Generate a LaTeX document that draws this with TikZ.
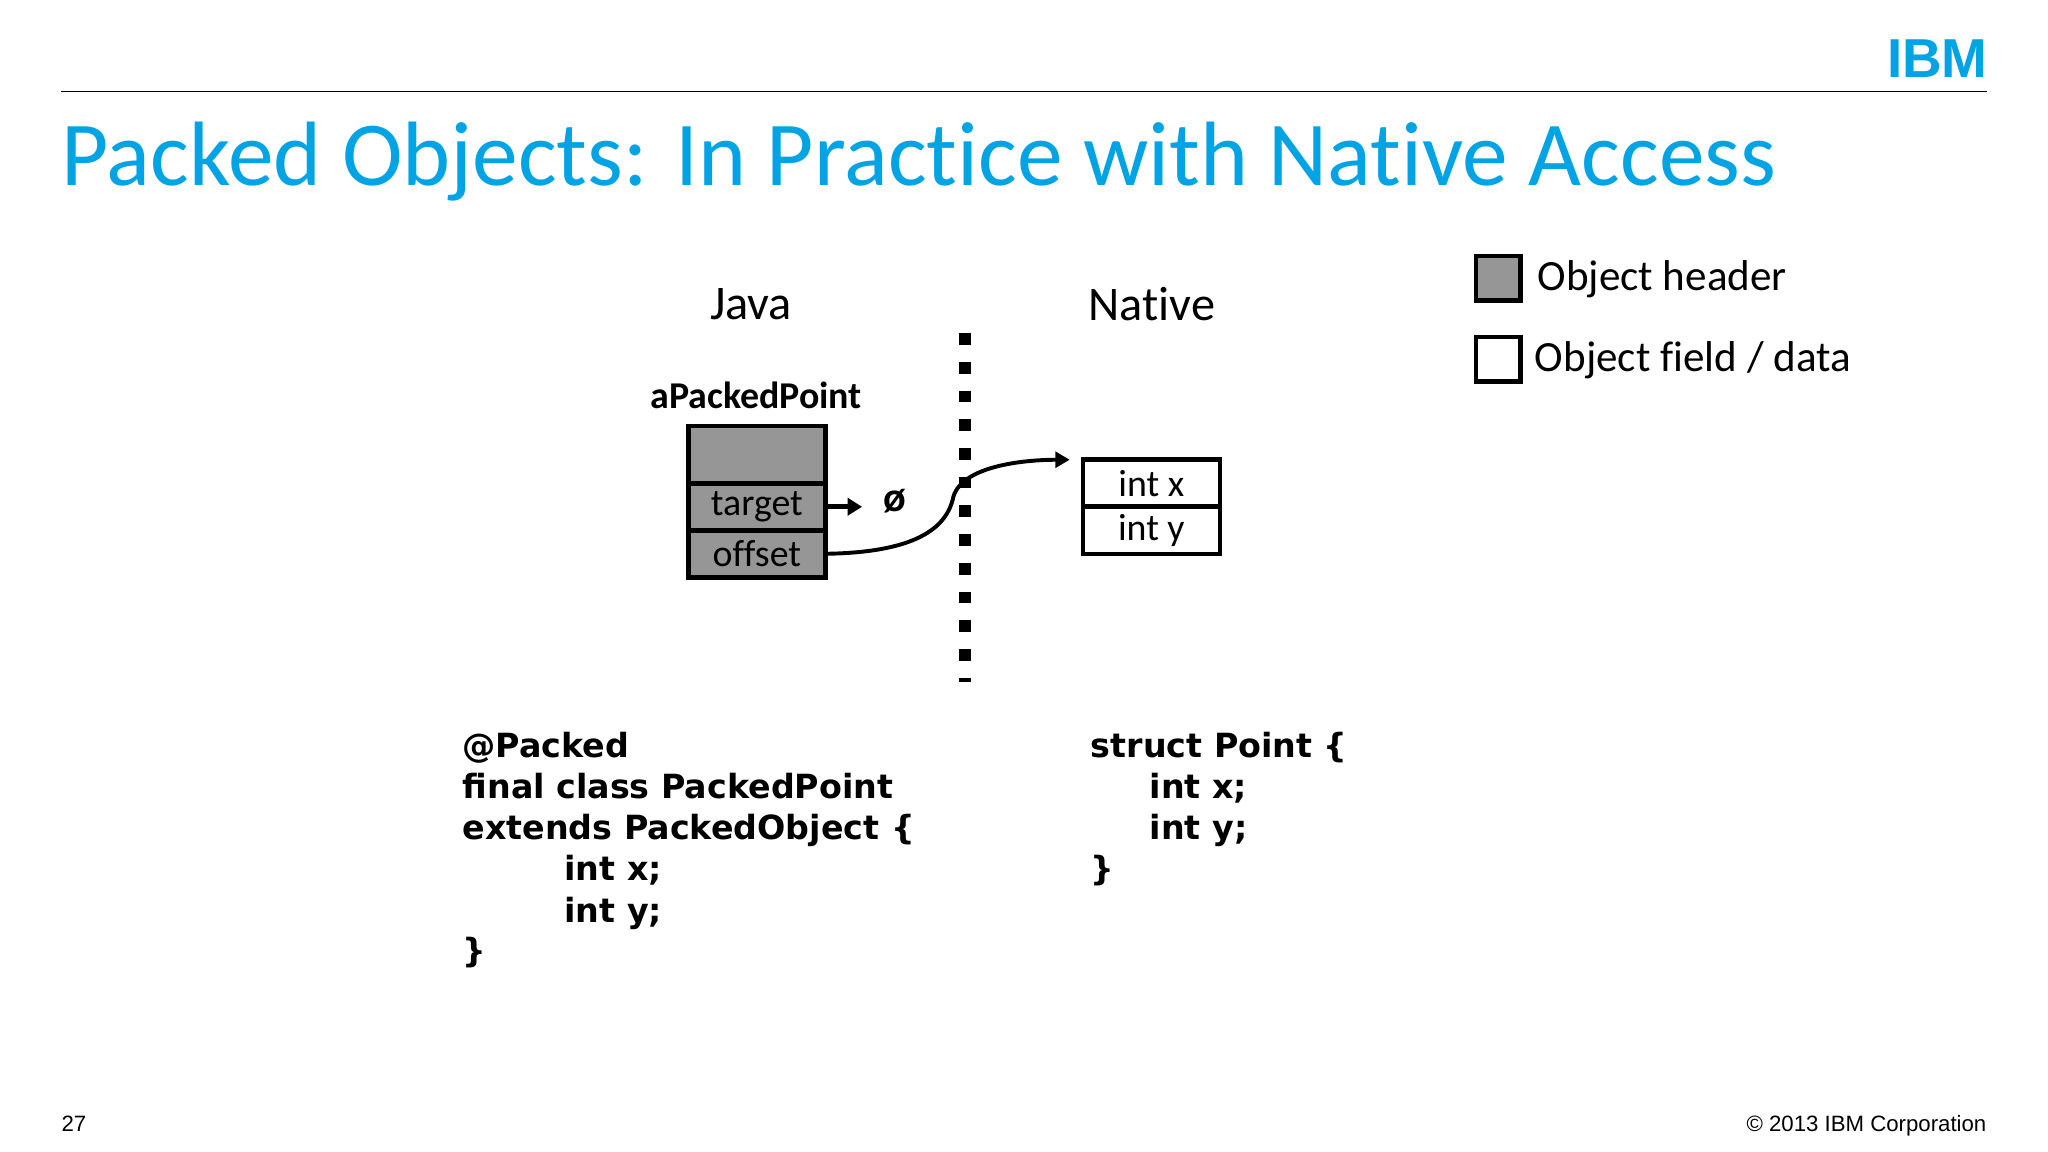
\documentclass[tikz,border=0pt]{standalone}
\usepackage{fontspec}
\setmainfont[Ligatures={NoCommon}]{Carlito}
\newfontfamily\codef{DejaVu Sans}
\newfontfamily\arialf{Liberation Sans}
\usetikzlibrary{arrows.meta}
\definecolor{ibmcyan}{RGB}{0,163,228}
\definecolor{hdrgray}{RGB}{150,150,150}
\begin{document}
\begin{tikzpicture}[x=1pt,y=-1pt,
  cell/.style={draw=black,line width=3.5pt,minimum width=105pt,minimum height=36pt,inner sep=0pt,outer sep=0pt,font=\fontsize{29}{29}\selectfont},
  code/.style={anchor=base west,inner sep=0pt,font=\codef\bfseries\fontsize{25.5}{25.5}\selectfont},
  lab/.style={inner sep=0pt,font=\fontsize{37}{37}\selectfont}]
\useasboundingbox (0,0) rectangle (1568,882);
\fill[white] (0,0) rectangle (1568,882);
\node[anchor=east,inner sep=0pt,text=ibmcyan,font=\arialf\bfseries\fontsize{42}{42}\selectfont] (ibm) at (1522,45) {IBM};
\draw[line width=1.3pt] (47,70) -- (1521,70);
\node[anchor=base west,inner sep=0pt,text=ibmcyan,font=\fontsize{70}{70}\selectfont] (title) at (47,142) {Packed Objects: In Practice with Native Access};
\node[lab] (java) at (575,233) {Java};
\node[lab] (native) at (882,233) {Native};
\node[inner sep=0pt,font=\bfseries\fontsize{29}{29}\selectfont] (apt) at (579,303) {aPackedPoint};
\node[cell,fill=hdrgray,minimum height=44pt] (hdr) at (579.5,348) {};
\node[cell,fill=hdrgray,anchor=north] (tgt) at (hdr.south) {target};
\node[cell,fill=hdrgray,anchor=north] (off) at (tgt.south) {offset};
\node[inner sep=0pt,font=\bfseries\fontsize{32}{32}\selectfont] (null) at (685,384) {ø};
\coordinate (ta) at (660,388);
\draw[line width=3.5pt,-{Triangle[length=11pt,width=13pt]}] (tgt.east) -- (ta);
\node[cell,fill=white] (ix) at (881.5,370) {int x};
\node[cell,fill=white,anchor=north] (iy) at (ix.south) {int y};
\coordinate (d1) at (739,255);
\coordinate (d2) at (739,522);
\draw[line width=9pt,dash pattern=on 9pt off 13pt] (d1) -- (d2);
\coordinate (ne) at (819,352);
\draw[line width=3pt,-{Triangle[length=11pt,width=12pt]}] (off.east) .. controls (700,423) and (725,405) .. (730,380) .. controls (738,355) and (790,352) .. (ne);
\node[draw=black,line width=3.5pt,fill=hdrgray,minimum size=34pt,inner sep=0pt] (lg1) at (1147,213) {};
\node[draw=black,line width=3.5pt,fill=white,minimum size=34pt,inner sep=0pt] (lg2) at (1147,275) {};
\node[anchor=west,inner sep=0pt,font=\fontsize{33}{33}\selectfont] (l1) at (1177,214) {Object header};
\node[anchor=west,inner sep=0pt,font=\fontsize{33}{33}\selectfont] (l2) at (1175,276) {Object field / data};
\node[code] (c1) at (354,580) {@Packed};
\node[code] (c2) at (354,611) {final class PackedPoint};
\node[code] (c3) at (354,643) {extends PackedObject \{};
\node[code] (c4) at (432,674) {int x;};
\node[code] (c5) at (432,706) {int y;};
\node[code] (c6) at (354,737) {\}};
\node[code] (s1) at (835,580) {struct Point \{};
\node[code] (s2) at (880,611) {int x;};
\node[code] (s3) at (880,643) {int y;};
\node[code] (s4) at (835,674) {\}};
\node[anchor=base west,inner sep=0pt,font=\arialf\fontsize{17}{17}\selectfont] (pg) at (47,866) {27};
\node[anchor=base east,inner sep=0pt,font=\arialf\fontsize{17}{17}\selectfont] (cp) at (1521,866) {© 2013 IBM Corporation};
\end{tikzpicture}
\end{document}
